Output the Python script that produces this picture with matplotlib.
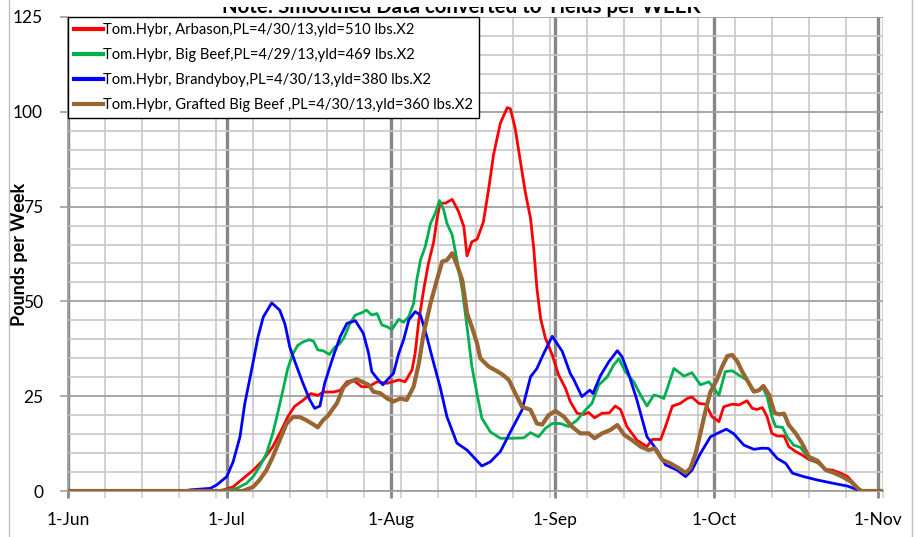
import numpy as np
import matplotlib
matplotlib.use("Agg")
import matplotlib.pyplot as plt
from matplotlib.patches import Rectangle
from matplotlib.ticker import FixedLocator, MultipleLocator, NullFormatter

plt.rcParams['font.family'] = ['Lato', 'DejaVu Sans']

# x values are days counted from 1-Jun
month_days = [0, 30, 61, 92, 122, 153]
month_labels = ['1-Jun', '1-Jul', '1-Aug', '1-Sep', '1-Oct', '1-Nov']

labels = ['Tom.Hybr, Arbason,PL=4/30/13,yld=510 lbs.X2',
          'Tom.Hybr, Big Beef,PL=4/29/13,yld=469 lbs.X2',
          'Tom.Hybr, Brandyboy,PL=4/30/13,yld=380 lbs.X2',
          'Tom.Hybr, Grafted Big Beef ,PL=4/30/13,yld=360 lbs.X2']

red_x = [0, 28, 29.4, 31.2, 33.1, 35, 36.9, 38.7, 40.3, 41.5, 42.8, 44.4, 45.9, 47.2, 48.2, 50.1,
         51.4, 52.7, 53.9, 55.5, 56.8, 58.4, 60.3, 62.5, 63.7, 65, 65.6, 66.3, 67.2, 68.1, 69.1,
         69.7, 70.3, 71.3, 72.6, 73.8, 74.8, 75.4, 76.3, 77.3, 78.5, 79.5, 80.4, 81.7, 83, 83.6,
         84.5, 85.5, 86.4, 87.4, 88, 88.6, 89.3, 90.2, 91.5, 92.7, 94, 94.9, 96.2, 97.4, 98.4,
         99.5, 100.9, 102.3, 103.4, 104.4, 105.6, 107.5, 109.4, 110.4, 112, 112.9, 114.2, 115.7,
         117, 117.9, 119.2, 120.5, 121.7, 123, 123.9, 125.5, 126.8, 128.3, 129.3, 130.2, 131.2,
         132.1, 133, 134, 135.3, 136.2, 137.5, 138.7, 140, 141.6, 143.2, 144.5, 146, 147.3,
         148.5, 149.8, 154]
red_y = [0, 0, 0.3, 1.1, 3.3, 5.5, 8.2, 11.7, 16, 19.5, 22.3, 23.9, 25.7, 25.2, 26.1, 26.1,
         26.5, 28.8, 29.2, 27.5, 27.5, 28.8, 28.4, 29.3, 28.8, 31.9, 36.3, 45.1, 53, 60, 65.7,
         71.5, 75.9, 75.9, 76.9, 73.7, 69.7, 62, 65.7, 66.4, 71, 79.8, 88.6, 97, 101.1, 100.8,
         95.6, 86.8, 78.9, 71.9, 64, 53.5, 45.5, 40.3, 35.9, 30.6, 27.1, 23.6, 20.5, 20.2, 20.7,
         19.3, 20.5, 20.6, 22.4, 21.5, 17, 13.4, 11.7, 13.6, 13.6, 17, 22.4, 23.1,
         24.4, 24.8, 23.1, 22.9, 19.6, 18.3, 22.2, 22.9, 22.7, 23.8, 21.8, 21.5, 22,
         19.6, 15.2, 14.5, 14.5, 11.7, 10.4, 9.5, 8.3, 7.5, 5.7, 5.5, 4.7, 3.8,
         2, 0, 0]

green_x = [0, 29, 30, 31.9, 33.7, 35, 36.2, 37.5, 38.7, 39.6, 40.6, 41.5, 42.5, 43.4, 44.4,
           45.6, 46.4, 47.2, 48.2, 49.4, 50.4, 51.3, 52.1, 53.3, 54.3, 55.5, 56.4, 57.4, 58.4,
           59.3, 60.3, 61.2, 62.5, 63.4, 64.4, 65.3, 65.9, 66.6, 67.5, 68.5, 69.4, 70.2, 71,
           71.6, 72.6, 73.5, 74.5, 75.4, 76.3, 77.3, 78.2, 79.8, 81.7, 83.6, 86.1, 87.4, 88.9,
           90.2, 91.5, 93, 94.6, 96.2, 97.8, 99, 100.3, 101.9, 103.1, 104.1, 105.3, 106.9,
           108.2, 109.4, 110.7, 111.6, 112.6, 114.5, 116.4, 117.9, 119.5, 121.1, 123, 124.2,
           125.5, 127.4, 128.3, 129.3, 130.2, 131.2, 132.1, 133, 133.7, 135, 135.9, 137.1,
           138.4, 140, 141.6, 143.2, 144.7, 146.3, 147.9, 149.4, 150, 154]
green_y = [0, 0, 0.3, 0.7, 2, 3.8, 6.4, 9.9, 15.2, 20.4, 26.5, 32.2, 36.2, 38.4, 39.3,
           39.9, 39.5, 37.2, 37, 36, 37.9, 38.8, 40.3, 44.2, 46.4, 47, 47.7, 46.4, 46.8,
           43.8, 43.3, 42.6, 45.3, 44.5, 46, 49.5, 55.6, 60.9, 64.4, 70.6, 73.2, 76.6, 74.1,
           70.6, 67.5, 60.9, 53, 43.3, 33, 25.5, 19.2, 15.6, 13.9, 13.9, 14, 15.4, 14.3,
           16.5, 17.8, 17.8, 17, 18.7, 21.4, 23.1, 28, 30.1, 33.2, 34.9, 31.5, 28.8,
           25.3, 22.4, 25.3, 25, 24.4, 32.3, 30.3, 31.2, 28, 28.8, 25.3, 31.5,
           31.7, 30, 29.2, 26.6, 26.2, 27.5, 24.9, 19.6, 17, 16.8, 14.3, 12.1,
           11.5, 8.6, 7.6, 5.6, 4.8, 3.8, 2.5, 0.5, 0, 0]

blue_x = [0, 22, 23.1, 26.9, 28.1, 30, 31.2, 32.5, 33.4, 34.7, 35.9, 36.9, 38.5, 40, 41,
          41.9, 42.9, 44.4, 45.7, 46.6, 47.6, 48.5, 50.1, 51.4, 52.7, 54.3, 55.8, 56.8, 57.4,
          58.4, 59.5, 60.6, 61.5, 62.5, 63.4, 64.4, 65.6, 66.6, 67.8, 69.1, 70.3, 71.6, 73.5,
          75.4, 76.6, 78.2, 79.8, 81.7, 83.6, 85.8, 87.4, 88.6, 89.9, 91.5, 93.4, 94.9, 95.6,
          97.1, 98.6, 99.2, 100.6, 102.2, 103.8, 104.7, 106, 107.5, 109.4, 111.3, 112.9,
          115.1, 116.7, 117.9, 119.5, 121.4, 123, 124.4, 125.8, 127.7, 129.6, 131.2, 132.4,
          134, 135.6, 136.9, 139, 141.6, 144.7, 147.3, 149.8, 154]
blue_y = [0, 0, 0.3, 0.7, 1.6, 3.8, 7.7, 14.3, 23, 32, 40.6, 45.9, 49.6, 47.7, 44,
          38, 34, 28.4, 24, 21.8, 22.4, 28.4, 35.4, 40.6, 44.2, 44.9, 41.6, 36.3, 31.5,
          29.7, 28, 29.7, 31, 36.3, 39.8, 45.1, 47.3, 46.4, 40.7, 33.7, 27.5, 19.6, 12.6,
          10.8, 9, 6.6, 7.7, 10.4, 15.6, 21.4, 30.1, 32.3, 36.3, 40.8, 36.8, 31, 29.3,
          24.9, 26.6, 25.7, 30.4, 34.1, 37, 35.4, 30.6, 24, 14.3, 10.8, 6.9,
          5.5, 3.8, 5.5, 9.9, 14.3, 15.4, 16.3, 15.1, 12.1, 11, 11.3, 11.2,
          8.6, 7.3, 4.7, 3.8, 2.9, 2, 1.3, 0, 0]

brown_x = [0, 33, 33.4, 35, 36.2, 37.5, 38.7, 40, 41.3, 42.5, 43.8, 45, 46.3, 47.2, 48.2,
           49.1, 50.1, 50.8, 52.1, 53.3, 54.5, 55.9, 56.8, 57.7, 59, 60.3, 61.5, 62.8, 64,
           65.3, 66.3, 67.2, 68.5, 69.7, 70.7, 71.6, 72.6, 73.5, 74.5, 75.4, 76.3, 77.3, 77.9,
           79.5, 80.7, 82, 83.3, 84.5, 85.8, 87.4, 88.6, 89.6, 90.8, 92.1, 93.7, 95.2, 96.8,
           98.4, 99.5, 100.9, 102.5, 103.8, 105.1, 106.6, 108.2, 109.7, 110.9, 112.3, 113.8,
           115.4, 116.7, 117.6, 118.6, 119.5, 120.5, 121.4, 122.6, 123.6, 124.6, 125.5, 126.5,
           127.4, 128.3, 129.6, 130.6, 131.4, 132.5, 133.5, 134.4, 135.3, 136.2, 137.5, 138.7,
           140, 141.6, 143.2, 144.7, 146.3, 147.9, 149.4, 150, 154]
brown_y = [0, 0, 0.2, 1.1, 2.9, 5.5, 9, 13.4, 17.8, 19.5, 19.5, 18.7, 17.6, 16.8, 18.7,
           19.8, 21.8, 23.1, 27.5, 28.8, 29.5, 28.6, 28, 26.2, 25.8, 24.4, 23.6, 24.4, 24,
           27.5, 33.7, 41.6, 49.5, 55.6, 60.5, 60.9, 62.7, 59.6, 55.6, 46.9, 43.3, 38.9, 35,
           32.8, 31.9, 30.8, 29.3, 25.8, 22.2, 21.4, 17.8, 17.5, 20, 21.1, 19.6, 17, 15.2,
           15.2, 13.9, 15.2, 16.1, 17.4, 14.8, 13.4, 11.7, 10.8, 11.2, 8.2, 7.3,
           6, 4.8, 6, 9.9, 15.2, 21.4, 26.2, 29.3, 32.8, 35.6, 35.9, 34.1,
           31.5, 29.3, 26.2, 26.6, 27.7, 25.3, 20.6, 20.2, 20.4, 17.4, 15.2, 12.6,
           9, 8, 5.5, 4.8, 3.8, 2.5, 0.5, 0, 0]

W, H = 917, 537
fig = plt.figure(figsize=(W / 100, H / 100), dpi=100)
ax = fig.add_axes([68 / W, 1 - 491 / H, (883 - 68) / W, (491 - 17) / H])

ax.set_xlim(0, 154)
ax.set_ylim(0, 125)

# grid: months major, weeks minor; 25 major, 5 minor
ax.xaxis.set_major_locator(FixedLocator(month_days))
ax.set_xticklabels(month_labels)
ax.xaxis.set_minor_locator(FixedLocator(np.arange(0, 155, 7)))
ax.xaxis.set_minor_formatter(NullFormatter())
ax.yaxis.set_major_locator(MultipleLocator(25))
ax.yaxis.set_minor_locator(MultipleLocator(5))

ax.grid(which='minor', axis='x', color='#d0d0d0', lw=1.4)
ax.grid(which='minor', axis='y', color='#c8c8c8', lw=1.2)
ax.grid(which='major', axis='y', color='#a0a0a0', lw=1.3)
ax.grid(which='major', axis='x', color='#868686', lw=2.4)
ax.set_axisbelow(True)

for s in ['top', 'right']:
    ax.spines[s].set_visible(False)
ax.spines['left'].set_color('#a0a0a0')
ax.spines['bottom'].set_color('#a0a0a0')
ax.spines['left'].set_linewidth(1.3)
ax.spines['bottom'].set_linewidth(1.3)

ax.tick_params(axis='x', which='major', length=5, color='#868686', width=2, pad=10, labelsize=12.5)
ax.tick_params(axis='x', which='minor', length=5, color='#d0d0d0', width=1.2)
ax.tick_params(axis='y', which='major', length=6, color='#a0a0a0', width=1.2, pad=12, labelsize=12.5)
ax.tick_params(axis='y', which='minor', length=0)

ax.plot(red_x, red_y, color='#ff0000', lw=2.0, label=labels[0], zorder=3)
ax.plot(green_x, green_y, color='#00b050', lw=2.0, label=labels[1], zorder=3)
ax.plot(blue_x, blue_y, color='#0000ff', lw=2.0, label=labels[2], zorder=3)
ax.plot(brown_x, brown_y, color='#996633', lw=3.0, label=labels[3], zorder=4)

leg = ax.legend(loc='upper left', bbox_to_anchor=(0, 1), borderaxespad=0, fontsize=10.6,
                fancybox=False, edgecolor='black', framealpha=1, handlelength=2.0,
                handletextpad=0.0, labelspacing=0.75, borderpad=0.4)
leg.get_frame().set_linewidth(1.0)
for h in leg.get_lines():
    h.set_linewidth(3.0)

ax.set_ylabel('Pounds per Week', fontweight='bold', fontsize=13)
ax.yaxis.set_label_coords(-(68 - 28) / (883 - 68), 0.5)

# chart title sits mostly off the top edge
fig.text(0.503, 1 - 13 / H, 'Note: Smoothed Data converted to Yields per WEEK',
         ha='center', va='baseline', fontsize=14.7, fontweight='bold')
fig.patches.append(Rectangle((0, 1 - 6.5 / H), 1, 6.5 / H, transform=fig.transFigure,
                             facecolor='white', edgecolor='none', zorder=5))
# chart area border
fig.patches.append(Rectangle((9 / W, -0.1), (912 - 9) / W, 1.2, transform=fig.transFigure,
                             fill=False, edgecolor='#bfbfbf', lw=1.0, zorder=6))

fig.savefig('out.png', dpi=100)
